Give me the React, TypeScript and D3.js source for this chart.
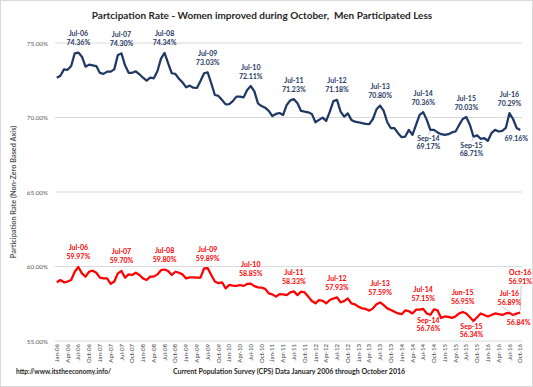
import React, { useEffect, useRef } from 'react';
import * as d3 from 'd3';

const monthNames = ['Jan', 'Feb', 'Mar', 'Apr', 'May', 'Jun', 'Jul', 'Aug', 'Sep', 'Oct', 'Nov', 'Dec'];
const years = ['06', '07', '08', '09', '10', '11', '12', '13', '14', '15', '16'];

// Jan-06 .. Oct-16
const categories: string[] = [];
years.forEach(yy => monthNames.forEach(m => categories.push(`${m}-${yy}`)));
categories.splice(categories.length - 2, 2);

const men = [
    72.67, 72.80, 73.23, 73.20, 73.46, 74.31, 74.36, 74.08, 73.41, 73.55, 73.50, 73.45,
    72.99, 72.93, 73.08, 73.08, 73.23, 74.20, 74.30, 73.50, 73.00, 73.00, 73.10, 72.90,
    72.67, 72.47, 72.67, 72.63, 73.10, 73.95, 74.34, 73.64, 72.97, 72.93, 72.60, 72.36,
    72.03, 72.14, 72.00, 71.98, 72.45, 72.97, 73.03, 72.30, 71.51, 71.45, 71.17, 70.88,
    70.90, 71.10, 71.40, 71.40, 71.35, 71.85, 72.11, 71.75, 70.95, 70.77, 70.66, 70.44,
    70.10, 70.24, 70.30, 70.17, 70.84, 71.15, 71.23, 70.95, 70.44, 70.39, 70.35, 70.24,
    69.68, 69.84, 69.99, 69.77, 70.39, 71.10, 71.18, 70.39, 70.06, 70.28, 69.84, 69.72,
    69.68, 69.62, 69.57, 69.55, 69.90, 70.55, 70.80, 70.45, 69.68, 69.28, 69.28, 68.95,
    68.68, 68.72, 69.17, 68.83, 69.50, 70.17, 70.36, 69.84, 69.17, 69.17, 69.00, 68.88,
    68.83, 68.88, 69.00, 69.06, 69.50, 69.90, 70.03, 69.50, 68.71, 68.80, 68.57, 68.61,
    68.44, 68.95, 69.17, 69.06, 69.10, 69.30, 70.29, 69.90, 69.30, 69.16
];

const women = [
    58.94, 59.09, 58.94, 58.99, 59.09, 59.65, 59.97, 59.54, 59.32, 59.65, 59.72, 59.58,
    59.25, 59.20, 59.20, 58.83, 58.99, 59.54, 59.70, 59.25, 59.47, 59.43, 59.58, 59.43,
    59.20, 59.09, 59.32, 59.32, 59.47, 59.75, 59.80, 59.70, 59.43, 59.65, 59.58, 59.47,
    59.20, 59.27, 59.27, 59.25, 59.25, 59.87, 59.89, 59.43, 58.99, 58.88, 58.94, 58.53,
    58.76, 58.72, 58.70, 58.76, 58.70, 58.83, 58.85, 58.68, 58.60, 58.58, 58.50, 58.20,
    58.13, 57.98, 58.15, 58.13, 58.08, 58.26, 58.33, 58.08, 58.31, 58.26, 57.98, 57.68,
    57.53, 57.75, 57.70, 57.53, 57.75, 57.85, 57.93, 57.60, 57.68, 57.86, 57.53, 57.46,
    57.30, 57.19, 57.15, 57.04, 57.19, 57.46, 57.59, 57.41, 57.19, 57.08, 56.97, 56.85,
    56.80, 57.05, 57.00, 56.85, 57.10, 57.10, 57.15, 56.85, 56.76, 57.12, 57.05, 56.55,
    56.65, 56.62, 56.55, 56.65, 56.85, 56.95, 56.85, 56.60, 56.34, 56.60, 56.85, 56.75,
    56.65, 56.75, 56.85, 56.80, 56.75, 56.85, 56.89, 56.75, 56.84, 56.91
];

const yTicks = [55, 60, 65, 70, 75];

// labelled points: [month, placement]
const menLabels: [string, string][] = [
    ['Jul-06', 'above'], ['Jul-07', 'above'], ['Jul-08', 'above'], ['Jul-09', 'above'],
    ['Jul-10', 'above'], ['Jul-11', 'above'], ['Jul-12', 'above'], ['Jul-13', 'above'],
    ['Jul-14', 'above'], ['Jul-15', 'above'], ['Jul-16', 'above'],
    ['Sep-14', 'below'], ['Sep-15', 'below'], ['Oct-16', 'end']
];
const womenLabels: [string, string][] = [
    ['Jul-06', 'above'], ['Jul-07', 'above'], ['Jul-08', 'above'], ['Jul-09', 'above'],
    ['Jul-10', 'above'], ['Jul-11', 'above'], ['Jul-12', 'above'], ['Jul-13', 'above'],
    ['Jul-14', 'above'], ['Jun-15', 'above'], ['Jul-16', 'above'],
    ['Sep-14', 'below'], ['Sep-15', 'below'], ['Oct-16', 'callout'], ['Sep-16', 'value']
];

const MEN_COLOR = '#1f3864';
const WOMEN_COLOR = '#ff0000';
const FONT = 'Lato, "Open Sans", sans-serif';

const App: React.FC = () => {
    const svgRef = useRef<SVGSVGElement>(null);

    useEffect(() => {
        document.body.style.margin = '0';
        if (!svgRef.current) return;
        const width = 533;
        const height = 387;
        const svg = d3.select(svgRef.current);
        svg.selectAll('*').remove();
        svg.style('font-family', FONT);

        svg.append('rect')
            .attr('x', 0.5).attr('y', 0.5)
            .attr('width', width - 1).attr('height', height - 1)
            .attr('fill', 'white')
            .attr('stroke', '#d9d9d9');

        const x = d3.scaleBand<string>().domain(categories).range([55, 522]);
        const cx = (c: string) => (x(c) || 0) + x.bandwidth() / 2;
        const y = d3.scaleLinear().domain([55, 75]).range([341, 43]);

        // gridlines
        svg.append('g')
            .selectAll('line')
            .data(yTicks)
            .enter()
            .append('line')
            .attr('x1', 55).attr('x2', 522)
            .attr('y1', d => y(d)).attr('y2', d => y(d))
            .attr('stroke', '#d9d9d9')
            .attr('stroke-width', 1);

        // Y axis labels
        const yAxis = svg.append('g')
            .attr('transform', 'translate(50,0)')
            .call(d3.axisLeft(y).tickValues(yTicks).tickSize(0).tickFormat(d => `${(+d).toFixed(2)}%`));
        yAxis.select('.domain').remove();
        yAxis.selectAll('text')
            .attr('x', -2)
            .style('font-family', FONT)
            .style('font-size', '6.3px')
            .attr('fill', '#595959');

        // X axis labels
        svg.append('g')
            .selectAll('text')
            .data(categories.filter((_, i) => i % 3 === 0))
            .enter()
            .append('text')
            .attr('transform', d => `translate(${cx(d)},344) rotate(-90)`)
            .attr('text-anchor', 'end')
            .attr('dy', '0.35em')
            .style('font-size', '6px')
            .attr('fill', '#404040')
            .text(d => d);

        // lines
        const line = d3.line<number>()
            .x((_, i) => cx(categories[i]))
            .y(d => y(d));

        [[men, MEN_COLOR], [women, WOMEN_COLOR]].forEach(([vals, color]) => {
            svg.append('path')
                .datum(vals as number[])
                .attr('fill', 'none')
                .attr('stroke', color as string)
                .attr('stroke-width', 2.25)
                .attr('stroke-linejoin', 'round')
                .attr('d', line);
        });

        // data labels
        const drawLabels = (labels: [string, string][], vals: number[], color: string, below: [number, number]) => {
            const g = svg.append('g')
                .attr('fill', color)
                .attr('text-anchor', 'middle')
                .style('font-size', '7px')
                .style('font-weight', 'bold');
            labels.forEach(([m, place]) => {
                const i = categories.indexOf(m);
                const px = cx(m);
                const py = y(vals[i]);
                const val = `${vals[i].toFixed(2)}%`;
                const put = (tx: number, ty: number, s: string) => g.append('text')
                    .attr('x', tx).attr('y', ty).attr('dy', '0.35em').text(s);
                if (place === 'above') {
                    put(px, py - 19, m);
                    put(px, py - 10, val);
                } else if (place === 'below') {
                    put(px - 2, py + below[0], m);
                    put(px - 2, py + below[1], val);
                    svg.append('line')
                        .attr('x1', px).attr('y1', py + 1)
                        .attr('x2', px - 2).attr('y2', py + below[0] - 4)
                        .attr('stroke', '#a6a6a6').attr('stroke-width', 0.6);
                } else if (place === 'callout') {
                    put(px, py - 40, m);
                    put(px, py - 31, val);
                    svg.append('line')
                        .attr('x1', px + 1).attr('y1', py - 27)
                        .attr('x2', px).attr('y2', py - 2)
                        .attr('stroke', '#a6a6a6').attr('stroke-width', 0.6);
                } else if (place === 'end') {
                    put(px - 4, py + 9, val);
                } else {
                    put(px + 2, py + 9, val);
                    svg.append('line')
                        .attr('x1', px - 15).attr('y1', py - 7)
                        .attr('x2', px).attr('y2', py + 3)
                        .attr('stroke', '#a6a6a6').attr('stroke-width', 0.6);
                }
            });
        };
        drawLabels(menLabels, men, MEN_COLOR, [9, 17]);
        drawLabels(womenLabels, women, WOMEN_COLOR, [6, 14]);

        // title
        svg.append('text')
            .attr('x', 262).attr('y', 15)
            .attr('text-anchor', 'middle')
            .attr('dy', '0.35em')
            .style('font-size', '10px')
            .style('font-weight', 'bold')
            .attr('fill', '#262626')
            .style('white-space', 'pre')
            .text('Partcipation Rate - Women improved during October,  Men Participated Less');

        // axis title
        svg.append('text')
            .attr('transform', 'translate(13,192) rotate(-90)')
            .attr('text-anchor', 'middle')
            .attr('dy', '0.35em')
            .style('font-size', '7.3px')
            .style('font-weight', 'bold')
            .attr('fill', '#595959')
            .text('Participation Rate (Non-Zero Based Axis)');

        // footer
        svg.append('text')
            .attr('x', 16).attr('y', 372)
            .attr('dy', '0.35em')
            .style('font-size', '6.6px')
            .style('font-weight', 'bold')
            .attr('fill', '#262626')
            .text('http://www.itstheeconomy.info/');
        svg.append('text')
            .attr('x', 289).attr('y', 372)
            .attr('text-anchor', 'middle')
            .attr('dy', '0.35em')
            .style('font-size', '7px')
            .style('font-weight', 'bold')
            .attr('fill', '#262626')
            .text('Current Population Survey (CPS) Data January 2006 through October 2016');
    }, []);

    return (
        <div style={{ position: 'absolute', left: 0, top: 0 }}>
            <svg ref={svgRef} width={533} height={387} style={{ display: 'block' }}></svg>
        </div>
    );
};

export default App;
